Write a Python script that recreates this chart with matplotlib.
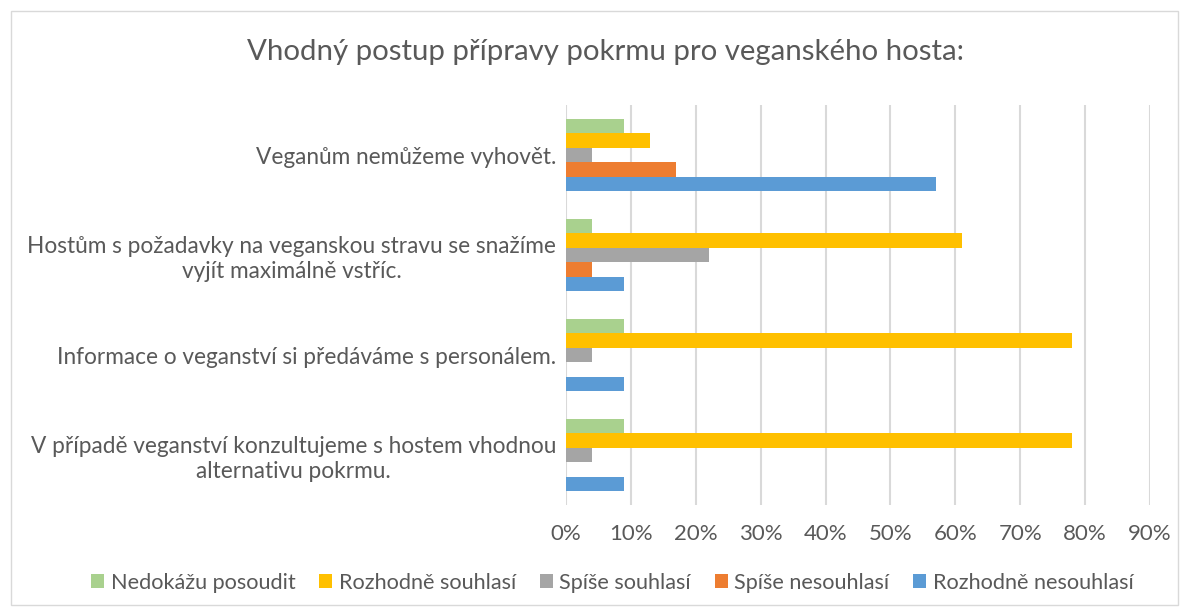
import numpy as np
import matplotlib
matplotlib.use("Agg")
import matplotlib.pyplot as plt
from matplotlib.patches import Rectangle

plt.rcParams['font.family'] = ['Lato', 'DejaVu Sans']

categories = [
    "Veganům nemůžeme vyhovět.",
    "Hostům s požadavky na veganskou stravu se snažíme\nvyjít maximálně vstříc.",
    "Informace o veganství si předáváme s personálem.",
    "V případě veganství konzultujeme s hostem vhodnou\nalternativu pokrmu.",
]
series_names = ["Nedokážu posoudit", "Rozhodně souhlasí", "Spíše souhlasí",
                "Spíše nesouhlasí", "Rozhodně nesouhlasí"]
nedokazu = [9, 4, 9, 9]
rozhodne_souhlasi = [13, 61, 78, 78]
spise_souhlasi = [4, 22, 4, 4]
spise_nesouhlasi = [17, 4, 0, 0]
rozhodne_nesouhlasi = [57, 9, 9, 9]
xticks = [0, 10, 20, 30, 40, 50, 60, 70, 80, 90]

values = [nedokazu, rozhodne_souhlasi, spise_souhlasi, spise_nesouhlasi, rozhodne_nesouhlasi]
colors = ["#A9D18E", "#FFC000", "#A5A5A5", "#ED7D31", "#5B9BD5"]
text_col = "#595959"

fig = plt.figure(figsize=(11.89, 6.16), dpi=100)
fig.patches.append(Rectangle((0.009, 0.018), 0.982, 0.964, transform=fig.transFigure,
                             fill=False, edgecolor="#D9D9D9", linewidth=1))
ax = fig.add_axes([566 / 1189, 1 - 505 / 616, (1150 - 566) / 1189, 400 / 616])

bh = 0.146
y = np.arange(len(categories))
for j, (vals, c) in enumerate(zip(values, colors)):
    offs = (j - 2) * bh
    ax.barh(y + offs, vals, height=bh, color=c, label=series_names[j], zorder=3)

ax.set_ylim(len(categories) - 0.5, -0.5)
ax.set_xlim(0, 90)
ax.set_xticks(xticks)
ax.set_xticklabels([f"{t}%" for t in xticks], fontsize=16, color=text_col)
ax.set_yticks(y)
ax.set_yticklabels(categories, fontsize=16.3, color=text_col, multialignment="center",
                   linespacing=1.25)
ax.tick_params(axis="both", length=0)
ax.tick_params(axis="x", pad=14)
ax.tick_params(axis="y", pad=7)
ax.grid(axis="x", color="#D9D9D9", linewidth=1.5, zorder=0)
for s in ax.spines.values():
    s.set_visible(False)

fig.text(0.509, 1 - 52 / 616, "Vhodný postup přípravy pokrmu pro veganského hosta:",
         ha="center", va="center", fontsize=21.2, color=text_col)

handles, labels = ax.get_legend_handles_labels()
fig.legend(handles, labels, loc="center", bbox_to_anchor=(0.515, 1 - 583 / 616), ncol=5,
           frameon=False, fontsize=15.6, labelcolor=text_col, handlelength=0.6,
           handleheight=0.6, handletextpad=0.3, columnspacing=1.1)

fig.savefig("out.png", dpi=100)
